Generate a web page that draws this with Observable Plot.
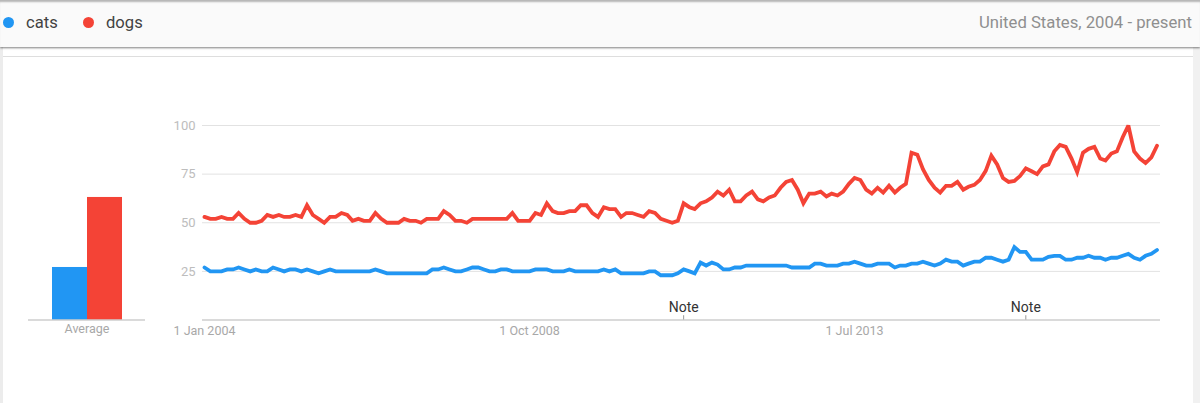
<!DOCTYPE html>
<html><head><meta charset="utf-8">
<script src="https://cdn.jsdelivr.net/npm/d3@7"></script>
<script src="https://cdn.jsdelivr.net/npm/@observablehq/plot@0.6"></script>
<style>
html,body{margin:0;padding:0;background:#fff;overflow:hidden;width:1200px;height:403px;font-family:Roboto,sans-serif}
#top{position:absolute;left:0;top:0;width:1200px;height:47px;background:#fafafa;box-sizing:border-box;box-shadow:inset 0 3px 2px -1px rgba(0,0,0,.28),0 1px 2px rgba(0,0,0,.5);z-index:3}
.lg{position:absolute;top:14px;font-size:16.6px;line-height:18px;color:#424242}
.dot{position:absolute;top:17px;width:11px;height:11px;border-radius:50%}
#region{position:absolute;right:8px;top:14px;font-size:16.7px;line-height:18px;color:#8f8f8f}
#left{position:absolute;left:0;top:47px;width:3px;height:356px;background:#ececec}
#right{position:absolute;left:1193px;top:47px;width:7px;height:356px;background:#f1f1f1}
#line{position:absolute;left:3px;top:56px;width:1190px;height:1px;background:#dedede}
#chart{position:absolute;left:0;top:48px;width:1200px;height:355px}
#chart svg{position:absolute;left:0;top:0;background:transparent}
</style></head><body>
<div id="top"></div><div id="left"></div><div id="right"></div><div id="line"></div>
<div id="chart"></div>
<script>
const seriesNames = ["cats","dogs"];
const seriesColors = ["#2196f3","#f44336"];
const averages = [27,63];
const region = "United States, 2004 - present";
const start = "2004-01-01";
const catsValues = [27,25,25,25,26,26,27,26,25,26,25,25,27,26,25,26,26,25,26,25,24,25,26,25,25,25,25,25,25,25,26,25,24,24,24,24,24,24,24,24,26,26,27,26,25,25,26,27,27,26,25,25,26,26,25,25,25,25,26,26,26,25,25,25,26,25,25,25,25,25,26,25,26,24,24,24,24,24,25,25,23,23,23,24,26,25,24,29.5,28,29.5,28.5,26,26,27,27,28,28,28,28,28,28,28,28,27,27,27,27,29,29,28,28,28,29,29,30,29,28,28,29,29,29,27,28,28,29,29,30,29,28,29,31,30,30,28,29,30,30,32,32,31,30,31,37.5,35,35,31,31,31,32.5,33,33,31,31,32,32,33,32,32,31,32,32,33,34,32,31,33,34,36];
const dogsValues = [53,52,52,53,52,52,55,52,50,50,51,54,53,54,53,53,54,53,59,54,52,50,53,53,55,54,51,52,51,51,55,52,50,50,50,52,51,51,50,52,52,52,56,54,51,51,50,52,52,52,52,52,52,52,55,51,51,51,55,54,60,56,55,55,56,56,59,59,55,53,58,57,57,53,55,55,54,53,56,55,52,51,50,51,60,58,57,60,61,63,66,64,67,61,61,64,66,62,61,63,64,68,71,72,67,60,65,65,66,63.5,65,64,66,70,73,72,67,65,68,65.5,69,65.5,68,70,86,85,77.5,72,68,65.5,69,69,71,67,68.5,69.5,72,76.7,84.5,80,73,71,71.5,74,78,76.5,75,79,80,86.7,90,89,83,76,86,88,89,83,82,85.6,86.7,94,100,86.7,83,80.7,83.6,89.6];
const yTicks = [25,50,75,100];
const xTickDates = ["2004-01-01","2008-10-01","2013-07-01"];
const xTickLabels = ["1 Jan 2004","1 Oct 2008","1 Jul 2013"];
const noteDates = ["2011-01-01","2016-01-01"];

const months = catsValues.map((_,i)=>d3.utcMonth.offset(new Date(start),i));
const toRows = (name,vals)=>vals.map((v,i)=>({name,date:months[i],value:v}));
const rows = [...toRows("cats",catsValues),...toRows("dogs",dogsValues)];
const avgRows = seriesNames.map((name,i)=>({name,value:averages[i]}));
const notes = noteDates.map(d=>new Date(d));
const xTicks = xTickDates.map(d=>new Date(d));
const colorScale = {domain:seriesNames,range:seriesColors};
const H = 355, TOP = 77, BOTTOM = 83.5;
const font = "Roboto,sans-serif";

const linePlot = Plot.plot({
  width:1200,height:H,marginLeft:202,marginRight:40,marginTop:TOP,marginBottom:BOTTOM,
  style:{fontFamily:font,fontSize:"13px",background:"transparent"},
  x:{type:"utc",domain:[months[0],months[months.length-1]],range:[204,1156.5]},
  y:{domain:[0,100]},
  color:colorScale,
  marks:[
    Plot.gridY(yTicks,{stroke:"#e2e2e2",strokeOpacity:1}),
    Plot.axisY(yTicks,{tickSize:0,tickPadding:7,label:null,color:"#bdbdbd",fontSize:13,anchor:"left"}),
    Plot.ruleY([0],{stroke:"#b5b5b5",strokeWidth:1.2}),
    Plot.axisX(xTicks,{tickSize:0,tickPadding:6,label:null,color:"#a8a8a8",fontSize:12.5,tickFormat:(d,i)=>xTickLabels[i]}),
    Plot.ruleX(notes,{y1:0,y2:2.2,stroke:"#999"}),
    Plot.text(notes,{x:d=>d,y:0,text:()=>"Note",dy:-12,fill:"#333",fontSize:14}),
    Plot.line(rows,{x:"date",y:"value",stroke:"name",z:"name",strokeWidth:3.8,strokeLinejoin:"miter",strokeMiterlimit:3,curve:"linear"})
  ]
});
const barPlot = Plot.plot({
  width:145,height:H,marginLeft:28,marginRight:0,marginTop:TOP,marginBottom:BOTTOM,
  style:{fontFamily:font,fontSize:"12.5px",background:"transparent"},
  x:{type:"band",domain:seriesNames,range:[51,122.5],padding:0,axis:null},
  y:{domain:[0,100],axis:null},
  color:colorScale,
  marks:[
    Plot.barY(avgRows,{x:"name",y:"value",fill:"name",inset:0}),
    Plot.ruleY([0],{stroke:"#b5b5b5",strokeWidth:1.2}),
    Plot.text(["Average"],{frameAnchor:"bottom",dy:13,fill:"#a8a8a8",fontSize:12.5})
  ]
});
document.getElementById("chart").append(linePlot,barPlot);

const top_ = document.getElementById("top");
const legendX = [[3,26],[83,106]];
seriesNames.forEach((n,i)=>{
  const d=document.createElement("div");d.className="dot";d.style.left=legendX[i][0]+"px";d.style.background=seriesColors[i];
  const t=document.createElement("div");t.className="lg";t.style.left=legendX[i][1]+"px";t.textContent=n;
  top_.append(d,t);
});
const r=document.createElement("div");r.id="region";r.textContent=region;top_.append(r);
</script></body></html>
